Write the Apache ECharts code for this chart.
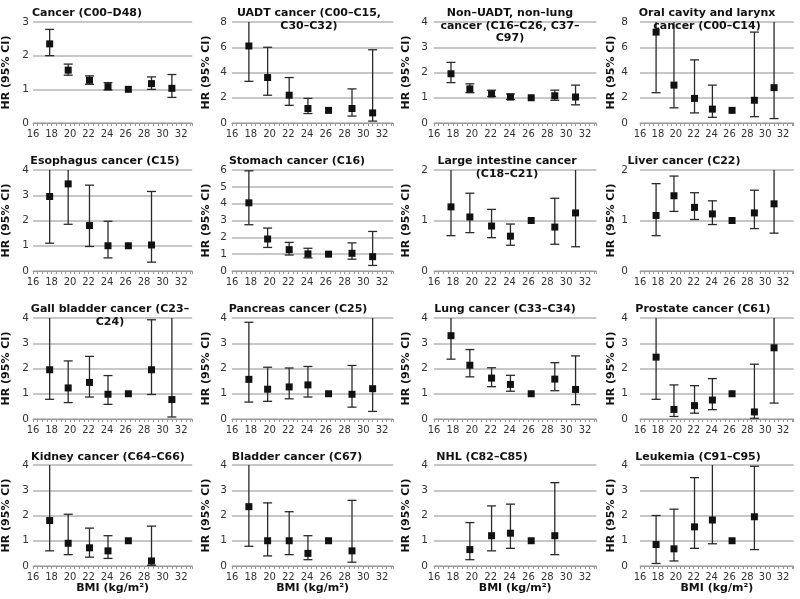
<!DOCTYPE html>
<html>
<head>
<meta charset="utf-8">
<script src="https://cdn.jsdelivr.net/npm/echarts@6/dist/echarts.min.js"></script>
<style>html,body{margin:0;padding:0;background:#fff}#c{width:800px;height:599px}</style>
</head>
<body>
<div id="c"></div>
<script>
// ---- data ----
const bmi = [17.8, 19.8, 22.1, 24.1, 26.3, 28.8, 31.0];
const xTicks = [16, 18, 20, 22, 24, 26, 28, 30, 32];
const titles = [
  'Cancer (C00–D48)', 'UADT cancer (C00–C15,\nC30–C32)', 'Non–UADT, non–lung\ncancer (C16–C26, C37–\nC97)', 'Oral cavity and larynx\ncancer (C00–C14)',
  'Esophagus cancer (C15)', 'Stomach cancer (C16)', 'Large intestine cancer\n(C18–C21)', 'Liver cancer (C22)',
  'Gall bladder cancer (C23–\nC24)', 'Pancreas cancer (C25)', 'Lung cancer (C33–C34)', 'Prostate cancer (C61)',
  'Kidney cancer (C64–C66)', 'Bladder cancer (C67)', 'NHL (C82–C85)', 'Leukemia (C91–C95)'
];
const yMax  = [3, 8, 4, 8,  4, 6, 2, 2,  4, 4, 4, 4,  4, 4, 4, 4];
const yStep = [1, 2, 1, 2,  1, 1, 1, 1,  1, 1, 1, 1,  1, 1, 1, 1];
const xName = 'BMI (kg/m²)';
const yName = 'HR (95% CI)';

const hrCancer = [2.35, 1.57, 1.27, 1.08, 1.0, 1.17, 1.03];
const loCancer = [2.00, 1.42, 1.15, 0.98, null, 1.00, 0.76];
const hiCancer = [2.78, 1.75, 1.40, 1.20, null, 1.37, 1.44];

const hrUadt = [6.1, 3.6, 2.2, 1.15, 1.0, 1.15, 0.8];
const loUadt = [3.3, 2.2, 1.4, 0.75, null, 0.55, 0.15];
const hiUadt = [11.0, 6.0, 3.6, 1.95, null, 2.7, 5.8];

const hrNonUadt = [1.95, 1.35, 1.15, 1.03, 1.0, 1.08, 1.03];
const loNonUadt = [1.60, 1.20, 1.05, 0.93, null, 0.90, 0.72];
const hiNonUadt = [2.40, 1.55, 1.30, 1.15, null, 1.30, 1.50];

const hrOral = [7.2, 3.0, 1.95, 1.1, 1.0, 1.8, 2.8];
const loOral = [2.4, 1.2, 0.80, 0.45, null, 0.5, 0.35];
const hiOral = [21.0, 9.5, 5.0, 3.0, null, 7.2, 22.0];

const hrEso = [2.95, 3.45, 1.8, 1.0, 1.0, 1.03, null];
const loEso = [1.10, 1.85, 0.97, 0.52, null, 0.35, null];
const hiEso = [7.5, 6.4, 3.4, 1.97, null, 3.15, null];

const hrStomach = [4.05, 1.9, 1.27, 1.02, 1.0, 1.05, 0.85];
const loStomach = [2.75, 1.4, 0.95, 0.78, null, 0.70, 0.33];
const hiStomach = [5.95, 2.55, 1.70, 1.35, null, 1.67, 2.35];

const hrColon = [1.27, 1.07, 0.89, 0.69, 1.0, 0.87, 1.15];
const loColon = [0.70, 0.76, 0.66, 0.51, null, 0.53, 0.48];
const hiColon = [2.3, 1.54, 1.22, 0.93, null, 1.44, 2.8];

const hrLiver = [1.10, 1.49, 1.26, 1.13, 1.0, 1.15, 1.33];
const loLiver = [0.70, 1.18, 1.02, 0.92, null, 0.84, 0.75];
const hiLiver = [1.73, 1.88, 1.55, 1.39, null, 1.60, 2.35];

const hrGall = [1.95, 1.23, 1.45, 0.98, 1.0, 1.95, 0.77];
const loGall = [0.78, 0.65, 0.87, 0.58, null, 0.97, 0.08];
const hiGall = [4.9, 2.30, 2.48, 1.72, null, 3.93, 7.0];

const hrPanc = [1.57, 1.18, 1.27, 1.35, 1.0, 0.98, 1.20];
const loPanc = [0.67, 0.70, 0.80, 0.87, null, 0.47, 0.30];
const hiPanc = [3.83, 2.05, 2.02, 2.08, null, 2.12, 4.8];

const hrLung = [3.3, 2.13, 1.62, 1.37, 1.0, 1.58, 1.17];
const loLung = [2.37, 1.67, 1.28, 1.10, null, 1.12, 0.57];
const hiLung = [4.6, 2.75, 2.03, 1.73, null, 2.23, 2.50];

const hrProst = [2.45, 0.38, 0.53, 0.75, 1.0, 0.28, 2.82];
const loProst = [0.78, 0.10, 0.23, 0.37, null, 0.03, 0.63];
const hiProst = [7.6, 1.35, 1.32, 1.60, null, 2.17, 12.0];

const hrKidney = [1.8, 0.9, 0.72, 0.6, 1.0, 0.2, null];
const loKidney = [0.6, 0.45, 0.35, 0.3, null, 0.03, null];
const hiKidney = [5.4, 2.05, 1.5, 1.2, null, 1.58, null];

const hrBladder = [2.35, 1.0, 1.0, 0.5, 1.0, 0.6, null];
const loBladder = [0.78, 0.4, 0.45, 0.25, null, 0.15, null];
const hiBladder = [7.0, 2.5, 2.15, 1.2, null, 2.6, null];

const hrNhl = [null, 0.65, 1.2, 1.3, 1.0, 1.2, null];
const loNhl = [null, 0.25, 0.6, 0.7, null, 0.45, null];
const hiNhl = [null, 1.72, 2.38, 2.45, null, 3.3, null];

const hrLeuk = [0.85, 0.68, 1.55, 1.82, 1.0, 1.95, null];
const loLeuk = [0.10, 0.20, 0.70, 0.88, null, 0.65, null];
const hiLeuk = [2.0, 2.25, 3.5, 4.6, null, 3.95, null];

const panels = [
  [hrCancer, loCancer, hiCancer], [hrUadt, loUadt, hiUadt], [hrNonUadt, loNonUadt, hiNonUadt], [hrOral, loOral, hiOral],
  [hrEso, loEso, hiEso], [hrStomach, loStomach, hiStomach], [hrColon, loColon, hiColon], [hrLiver, loLiver, hiLiver],
  [hrGall, loGall, hiGall], [hrPanc, loPanc, hiPanc], [hrLung, loLung, hiLung], [hrProst, loProst, hiProst],
  [hrKidney, loKidney, hiKidney], [hrBladder, loBladder, hiBladder], [hrNhl, loNhl, hiNhl], [hrLeuk, loLeuk, hiLeuk]
];

// ---- layout ----
const FONT = 'DejaVu Sans';
const X_MIN = 16, X_MAX = 33.2;
const x16 = [31, 232, 434, 640];
const x32 = [181, 382, 585, 783];
const rowTop = [22, 170, 318, 465];
const plotH = 101;
const labelMargin = [4, 5, 6, 12];
const nameGap = [21, 20, 22, 23];
const titleX = [82, 304, 505, 702, 100, 292, 502, 679, 105, 293, 500, 698, 103, 292, 477, 693];
const titleTop = [2, 150, 298, 446];

const grids = [], xAxes = [], yAxes = [], series = [], titleOpts = [];
panels.forEach((p, i) => {
  const r = Math.floor(i / 4), c = i % 4;
  const w = (x32[c] - x16[c]) * (X_MAX - X_MIN) / (32 - X_MIN);
  grids.push({ left: x16[c], top: rowTop[r], width: w, height: plotH });
  titleOpts.push({
    text: titles[i], left: titleX[i], top: titleTop[r], textAlign: 'center',
    textStyle: { fontFamily: FONT, fontSize: 11, fontWeight: 'bold', color: '#111', lineHeight: 12.5 }
  });
  xAxes.push({
    type: 'value', gridIndex: i, min: X_MIN, max: X_MAX, interval: 2,
    name: r === 3 ? xName : '', nameLocation: 'middle', nameGap: 17,
    nameTextStyle: { fontFamily: FONT, fontSize: 11, fontWeight: 'bold', color: '#111' },
    axisLine: { lineStyle: { color: '#999', width: 1 } },
    axisTick: { show: true, length: 3, lineStyle: { color: '#999' } },
    minorTick: { show: true, splitNumber: 4, length: 3, lineStyle: { color: '#999' } },
    splitLine: { show: false },
    axisLabel: {
      fontFamily: FONT, fontSize: 10, color: '#333', margin: 6,
      formatter: v => (xTicks.indexOf(v) >= 0 ? String(v) : '')
    }
  });
  yAxes.push({
    type: 'value', gridIndex: i, min: 0, max: yMax[i], interval: yStep[i],
    name: yName, nameLocation: 'middle', nameGap: nameGap[c], nameRotate: 90,
    nameTextStyle: { fontFamily: FONT, fontSize: 11, fontWeight: 'bold', color: '#111' },
    axisLine: { show: false }, axisTick: { show: false },
    splitLine: { lineStyle: { color: '#b4b4b4', width: 1.5 } },
    axisLabel: { fontFamily: FONT, fontSize: 10.5, color: '#333', margin: labelMargin[c] }
  });
  const [hr, lo, hi] = p;
  const barData = [], ptData = [];
  bmi.forEach((x, k) => {
    if (hr[k] != null) ptData.push([x, hr[k]]);
    if (lo[k] != null && hi[k] != null) barData.push([x, lo[k], hi[k]]);
  });
  series.push({
    type: 'custom', xAxisIndex: i, yAxisIndex: i, data: barData,
    encode: { x: 0, y: [1, 2] }, silent: true, z: 2,
    renderItem: (params, api) => {
      const x = api.value(0), lo = api.value(1), hi = api.value(2);
      const pl = api.coord([x, lo]), ph = api.coord([x, hi]);
      const cs = params.coordSys;
      const top = cs.y, bottom = cs.y + cs.height;
      const st = { stroke: '#2a2a2a', lineWidth: 1.3 };
      const yHi = Math.max(ph[1], top), yLo = Math.min(pl[1], bottom);
      const cw = 4.5;
      const ch = [{ type: 'line', shape: { x1: pl[0], y1: yLo, x2: pl[0], y2: yHi }, style: st }];
      if (ph[1] >= top) ch.push({ type: 'line', shape: { x1: ph[0] - cw, y1: yHi, x2: ph[0] + cw, y2: yHi }, style: st });
      if (pl[1] <= bottom) ch.push({ type: 'line', shape: { x1: pl[0] - cw, y1: yLo, x2: pl[0] + cw, y2: yLo }, style: st });
      return { type: 'group', children: ch };
    }
  });
  series.push({
    type: 'scatter', xAxisIndex: i, yAxisIndex: i, data: ptData,
    symbol: 'rect', symbolSize: 7, itemStyle: { color: '#111', opacity: 1 }, z: 3, silent: true
  });
});

const chart = echarts.init(document.getElementById('c'), null, { renderer: 'canvas' });
chart.setOption({
  animation: false,
  backgroundColor: '#fff',
  title: titleOpts,
  grid: grids,
  xAxis: xAxes,
  yAxis: yAxes,
  series: series
});
</script>
</body>
</html>
